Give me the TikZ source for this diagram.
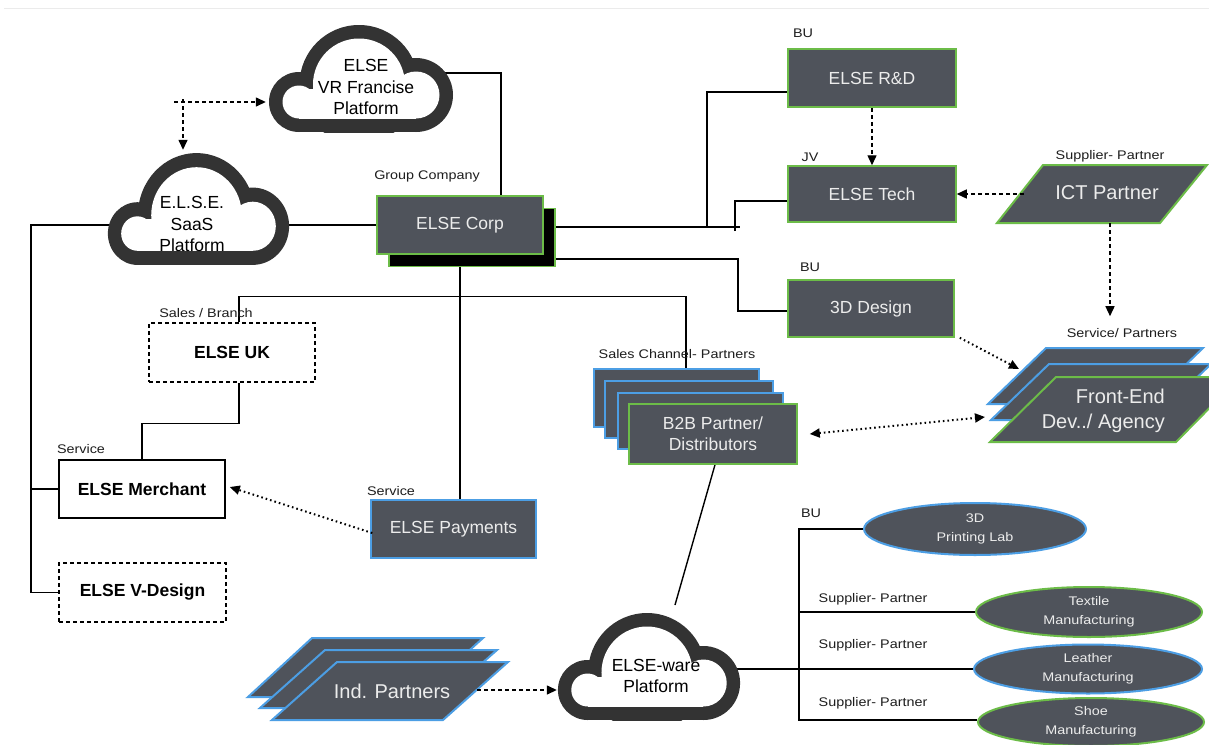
\documentclass[tikz,border=0pt]{standalone}
\usepackage{fontspec}
\setmainfont{Liberation Sans}
\newfontfamily\lblfont[FakeStretch=1.15]{Liberation Sans}
\usetikzlibrary{shapes.geometric,arrows.meta,calc}
\pgfdeclarelayer{bg}
\pgfdeclarelayer{paper}
\pgfsetlayers{paper,bg,main}
\definecolor{boxgray}{RGB}{79,83,91}
\definecolor{greenb}{RGB}{108,188,72}
\definecolor{blueb}{RGB}{76,158,228}
\definecolor{cloudc}{RGB}{51,51,51}
\definecolor{boxtxt}{RGB}{236,236,236}
\definecolor{lbltxt}{RGB}{30,30,30}
\newcommand\drawcloud[4]{%
  \begin{scope}[shift={(#1,#2)},xscale=#3,yscale=#4]
    \begin{scope}
      \clip (-100,-53.5) rectangle (100,60);
      \fill[cloudc] (-62,-23.5) circle[radius=30];
      \fill[cloudc] (55,-16.5) circle[radius=37];
      \fill[cloudc] (-2,-6) circle[radius=59.5];
      \fill[cloudc] (-62,-53.5) rectangle (55,-10);
    \end{scope}
    \begin{scope}
      \clip (-100,-40) rectangle (100,60);
      \fill[white] (-62,-23.5) circle[radius=16.5];
      \fill[white] (55,-16.5) circle[radius=23.5];
      \fill[white] (-2,-6) circle[radius=46];
      \fill[white] (-62,-40) rectangle (55,-10);
    \end{scope}
  \end{scope}}
\tikzset{
  darkbox/.style={rectangle, fill=boxgray, draw=greenb, line width=1.5pt, text=boxtxt,
    font=\fontsize{17.5}{21}\selectfont, align=center, inner sep=0pt,
    minimum width=166pt, minimum height=58pt},
  bluebox/.style={darkbox, draw=blueb},
  whitebox/.style={rectangle, fill=white, draw=black, line width=1.5pt,
    font=\bfseries\fontsize{17.5}{21}\selectfont, inner sep=0pt,
    minimum width=166pt, minimum height=58pt},
  dashbox/.style={whitebox, dash pattern=on 4pt off 3pt},
  lbl/.style={inner sep=0pt, text=lbltxt, font=\lblfont\fontsize{12.5}{15}\selectfont},
  cloudtext/.style={inner sep=0pt, align=center, text=black, font=\fontsize{17.5}{21.5}\selectfont},
  cloudbox/.style={inner sep=0pt, minimum width=184pt, minimum height=107pt},
  bigtxt/.style={inner sep=0pt, text=boxtxt, font=\fontsize{20}{25}\selectfont},
  ell/.style={ellipse, fill=boxgray, line width=2pt, text=boxtxt, inner sep=0pt, align=center,
    font=\lblfont\fontsize{12.5}{19}\selectfont, minimum width=224pt, minimum height=50pt},
  conn/.style={line width=1.4pt, black},
  dasharrow/.style={line width=1.4pt, dash pattern=on 4pt off 3pt, -{Triangle[length=10pt,width=9pt]}},
  dotarrow/.style={line width=2pt, dash pattern=on 1.6pt off 3pt, -{Triangle[length=10pt,width=9pt]}},
  para/.style={fill=boxgray, line width=2pt, line join=miter},
}
\begin{document}
\begin{tikzpicture}[x=1pt,y=1pt]
\useasboundingbox (0,0) rectangle (1209,-744);
\begin{pgfonlayer}{paper}
  \fill[white] (0,0) rectangle (1209,-744);
  \draw[black!8, line width=1pt] (4,-8) -- (1209,-8);
\end{pgfonlayer}

% clouds
\drawcloud{361}{-78.5}{1}{1}
\drawcloud{198.5}{-209}{0.985}{1.045}
\drawcloud{649}{-666.5}{0.99}{1}
\node[cloudbox] (vr) at (361,-78.5) {};
\node[cloudbox, minimum height=112pt] (saas) at (198.5,-209) {};
\node[cloudbox] (ware) at (649,-666.5) {};
\node[cloudtext] (vrt) at (366,-87) {ELSE\\VR Francise\\Platform};
\node[cloudtext] (saast) at (192,-224) {E.L.S.E.\\SaaS\\Platform};
\node[cloudtext] (waret) at (656,-676) {ELSE-ware\\Platform};

% boxes
\node[darkbox, fill=black] (corpshadow) at (472,-237.5) {};
\node[darkbox] (corp) at (460,-225) {ELSE Corp};
\node[darkbox, minimum width=168pt] (rd) at (872,-78) {ELSE R\&D};
\node[darkbox, minimum width=168pt, minimum height=56pt] (tech) at (872,-194) {ELSE Tech};
\node[darkbox, minimum height=57pt] (design3d) at (871,-308.5) {3D Design};
\node[bluebox, minimum width=165pt] (payments) at (453.5,-529) {ELSE Payments};
\node[dashbox, minimum height=59pt] (uk) at (232,-352.5) {ELSE UK};
\node[whitebox] (merchant) at (142,-489) {ELSE Merchant};
\node[dashbox, minimum width=167pt, minimum height=59pt] (vdesign) at (142.5,-592.5) {ELSE V-Design};

% B2B stack
\node[bluebox, minimum width=165pt] (b2bback) at (676.5,-398) {};
\node[bluebox, minimum width=168pt, minimum height=57pt] (b2bsecond) at (689,-409.5) {};
\node[bluebox, minimum width=165pt, minimum height=56pt] (b2bthird) at (700.5,-421) {};
\node[darkbox, minimum width=168pt, minimum height=60pt] (b2b) at (713,-434) {B2B Partner/\\Distributors};

% ICT partner
\draw[para, draw=greenb] (997,-223) -- (1043,-165) -- (1207,-165) -- (1160,-223) -- cycle;
\node[bigtxt] (ict) at (1107,-193) {ICT Partner};
\coordinate (ictW) at (1024,-194);
\coordinate (ictS) at (1110,-223);

% Front-end stack
\begin{scope}
  \clip (0,0) rectangle (1209,-744);
  \draw[para, draw=blueb] (988,-404) -- (1046,-348) -- (1203,-348) -- (1145,-404) -- cycle;
  \draw[para, draw=blueb] (991,-420) -- (1049,-364) -- (1211,-364) -- (1153,-420) -- cycle;
  \draw[para, draw=greenb] (990,-442) -- (1056,-377) -- (1240,-377) -- (1176,-442) -- cycle;
\end{scope}
\node[bigtxt, anchor=east, align=right] (frontend) at (1165,-411) {Front-End\\Dev../ Agency};
\coordinate (feNW) at (1019,-369);
\coordinate (feW) at (985,-417);

% Ind partners stack
\draw[para, draw=blueb] (248,-697) -- (312,-638) -- (483,-638) -- (418,-697) -- cycle;
\draw[para, draw=blueb] (260,-708) -- (325,-650) -- (497,-650) -- (431,-708) -- cycle;
\draw[para, draw=blueb] (272,-720) -- (337,-662) -- (508,-662) -- (443,-720) -- cycle;
\node[bigtxt] (ind) at (392,-691) {Ind. Partners};
\coordinate (indE) at (477,-690);

% ellipses
\node[ell, draw=blueb, minimum width=222pt, minimum height=52pt] (printlab) at (975,-529) {3D\\Printing Lab};
\node[ell, draw=greenb, minimum width=226pt] (textile) at (1089,-612) {Textile\\Manufacturing};
\node[ell, draw=blueb, minimum width=228pt, minimum height=49pt] (leather) at (1088,-669) {Leather\\Manufacturing};
\node[ell, draw=greenb, minimum width=226pt, minimum height=48pt] (shoe) at (1091,-722) {Shoe\\Manufacturing};

% labels
\node[lbl] (lgroup) at (427,-176) {Group Company};
\node[lbl] (lbu1) at (803,-33) {BU};
\node[lbl] (ljv) at (810,-157) {JV};
\node[lbl] (lsup1) at (1110,-156) {Supplier- Partner};
\node[lbl] (lbu2) at (810,-267) {BU};
\node[lbl] (lserv) at (1122,-333) {Service/ Partners};
\node[lbl] (lsales) at (677,-354) {Sales Channel- Partners};
\node[lbl] (lbranch) at (206,-313) {Sales / Branch};
\node[lbl] (lservice1) at (81,-449) {Service};
\node[lbl] (lservice2) at (391,-491) {Service};
\node[lbl] (lbu3) at (811,-513) {BU};
\node[lbl] (lsup2) at (873,-599) {Supplier- Partner};
\node[lbl] (lsup3) at (873,-645) {Supplier- Partner};
\node[lbl] (lsup4) at (873,-703) {Supplier- Partner};

% solid connectors (behind)
\begin{pgfonlayer}{bg}
  \coordinate (busL) at (31,-225);
  \draw[conn] (corp.west) -- (busL) |- (vdesign.west);
  \draw[conn] (busL |- merchant.west) -- (merchant.west);
  \draw[conn] ([yshift=5.5]vr.center) -| ([xshift=41]corp.north);
  \coordinate (j1) at (707,-227);
  \coordinate (j2) at (735,-227);
  \coordinate (j3) at (740,-227);
  \draw[conn] ([yshift=10.5]corpshadow.east) -- (j3);
  \draw[conn] (j1) |- ([yshift=-14]rd.west);
  \draw[conn] ([yshift=-4]j2) |- ([yshift=-7]tech.west);
  \coordinate (k) at (738,-259);
  \draw[conn] ([yshift=-21.5]corpshadow.east) -- (k) |- ([yshift=-2.5]design3d.west);
  \draw[conn] (corp.south) -- (corp.south |- payments.north);
  \draw[conn] ([xshift=7]uk.north) -- ++(0,26) -| ([xshift=9.5]b2bback.north);
  \draw[conn] ([xshift=7]uk.south) -- ++(0,-41) -| (merchant.north);
  \draw[conn] ([xshift=2]b2b.south) -- ([xshift=26,yshift=61.5]ware.center);
  \coordinate (busR) at (799,-720);
  \draw[conn] (ware.center |- leather.west) -- (leather.west);
  \draw[conn] (printlab.west) -| (busR) -- (busR -| shoe.west);
  \draw[conn] (textile.west -| busR) -- (textile.west);
\end{pgfonlayer}

% dashed arrows
\coordinate (tl) at (174,-102);
\draw[dasharrow] (tl) -- ($(vr.west |- tl)+(-3,0)$);
\draw[dasharrow] ($(tl)+(9,3)$) -- ($(tl |- saas.north)+(9,3)$);
\draw[dasharrow] (rd.south) -- (tech.north);
\draw[dasharrow] (ictW) -- (tech.east);
\draw[dasharrow] (ictS) -- ($(ictS |- lserv.north)+(0,12)$);
\draw[dasharrow] (indE) -- (indE -| ware.west);

% dotted arrows
\draw[dotarrow] ($(payments.west)+(2,-4)$) -- ($(merchant.east)+(4,2)$);
\draw[dotarrow] ($(design3d.south east)+(5,0)$) -- (feNW);
\draw[dotarrow, {Triangle[length=10pt,width=9pt]}-{Triangle[length=10pt,width=9pt]}] ($(b2b.east)+(12,0)$) -- (feW);
\end{tikzpicture}
\end{document}
